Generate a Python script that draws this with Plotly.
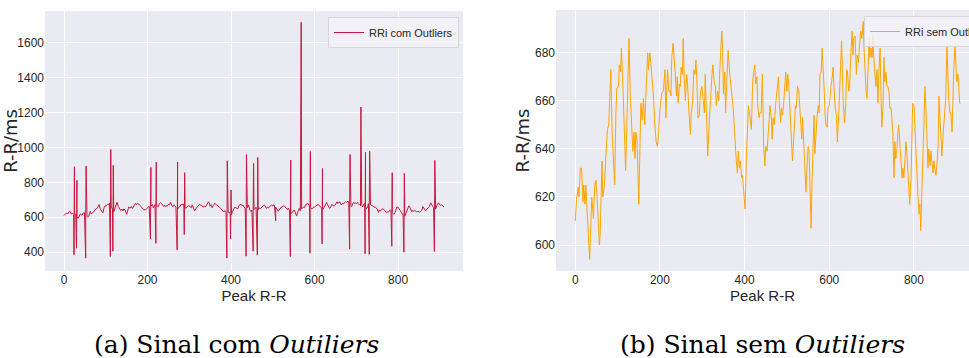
import plotly.graph_objects as go

# RR intervals after outlier removal: beat index and interval (ms)
clean_idx = [
    0, 3, 7, 9, 12, 15, 18, 20, 23, 25, 28, 31, 34, 39, 43, 46, 49, 52, 55, 57,
    59, 63, 65, 69, 72, 76, 79, 81, 84, 87, 90, 93, 96, 98, 102, 104, 107, 109, 113, 116,
    119, 122, 124, 127, 130, 133, 136, 139, 141, 143, 146, 150, 153, 155, 158, 161, 164, 167, 171, 173,
    176, 179, 182, 185, 188, 191, 194, 197, 200, 204, 208, 212, 214, 218, 221, 224, 226, 228, 231, 234,
    236, 239, 241, 243, 246, 248, 250, 253, 255, 257, 260, 263, 265, 268, 272, 274, 277, 280, 283, 285,
    287, 290, 293, 296, 299, 302, 305, 307, 310, 313, 317, 320, 323, 325, 328, 331, 333, 336, 339, 341,
    343, 346, 348, 350, 353, 355, 358, 361, 365, 368, 370, 373, 376, 378, 380, 383, 385, 388, 390, 393,
    395, 398, 400, 401, 404, 406, 409, 412, 416, 419, 421, 424, 426, 429, 431, 434, 436, 439, 442, 445,
    448, 450, 453, 455, 458, 460, 463, 465, 467, 470, 473, 475, 477, 480, 482, 485, 487, 489, 492, 495,
    497, 500, 502, 504, 507, 510, 513, 515, 518, 520, 522, 525, 528, 530, 533, 535, 537, 540, 543, 545,
    548, 550, 552, 555, 557, 559, 562, 564, 566, 569, 571, 574, 576, 578, 581, 583, 585, 588, 590, 592,
    595, 597, 600, 602, 604, 607, 609, 611, 614, 617, 619, 622, 624, 626, 629, 631, 633, 636, 639, 641,
    643, 646, 648, 651, 654, 656, 658, 661, 664, 666, 669, 671, 674, 677, 680, 682, 684, 687, 689, 691,
    694, 696, 698, 701, 703, 705, 708, 710, 713, 715, 717, 720, 722, 724, 727, 729, 731, 734, 736, 738,
    741, 743, 746, 748, 750, 753, 755, 757, 760, 762, 764, 767, 769, 772, 774, 776, 779, 781, 783, 786,
    788, 790, 793, 795, 797, 800, 802, 805, 807, 809, 812, 814, 816, 819, 821, 823, 826, 828, 831, 833,
    835, 838, 840, 842, 845, 847, 849, 852, 854, 857, 859, 861, 864, 866, 868, 871, 873, 875, 878, 880,
    882, 885, 887, 890, 892, 894, 897, 899, 901, 904, 906, 908, 910,
]
clean_val = [
    610, 619, 624, 620, 632, 632, 618, 625, 617, 625, 614, 602, 594, 620, 611, 625, 627, 619, 605, 600,
    605, 635, 620, 625, 636, 648, 650, 661, 673, 647, 634, 625, 655, 665, 666, 675, 672, 682, 664, 647,
    631, 651, 664, 686, 662, 647, 639, 647, 636, 647, 643, 617, 644, 659, 652, 661, 650, 664, 680, 673,
    680, 675, 669, 661, 650, 643, 641, 647, 657, 663, 664, 673, 653, 673, 664, 664, 662, 678, 684, 678,
    672, 662, 670, 659, 667, 666, 674, 671, 686, 672, 660, 671, 668, 657, 646, 655, 659, 673, 671, 677,
    670, 653, 654, 664, 666, 661, 655, 671, 652, 637, 653, 664, 671, 675, 668, 666, 658, 664, 660, 671,
    678, 689, 682, 663, 672, 655, 668, 681, 671, 666, 664, 657, 648, 641, 636, 630, 639, 632, 635, 628,
    629, 622, 619, 615, 635, 648, 658, 654, 648, 668, 671, 675, 667, 670, 658, 653, 655, 655, 671, 641,
    633, 641, 639, 644, 654, 658, 653, 644, 653, 650, 658, 662, 665, 670, 659, 651, 657, 654, 658, 669,
    672, 664, 671, 668, 658, 647, 635, 641, 651, 658, 657, 666, 664, 658, 647, 644, 653, 641, 630, 622,
    635, 641, 640, 622, 607, 625, 641, 654, 638, 650, 653, 658, 655, 671, 672, 682, 676, 664, 655, 650,
    649, 657, 658, 664, 666, 670, 674, 666, 657, 654, 643, 653, 665, 671, 685, 673, 659, 651, 659, 673,
    672, 664, 666, 680, 689, 679, 686, 687, 671, 679, 676, 682, 689, 686, 693, 682, 672, 664, 661, 676,
    686, 678, 682, 678, 687, 678, 671, 666, 673, 659, 671, 682, 664, 649, 658, 678, 668, 672, 666, 666,
    664, 657, 657, 651, 647, 628, 643, 636, 640, 647, 650, 641, 633, 628, 632, 628, 636, 643, 639, 628,
    622, 617, 628, 639, 659, 658, 650, 637, 625, 622, 613, 617, 606, 625, 641, 655, 666, 658, 644, 632,
    640, 633, 639, 635, 630, 635, 633, 629, 633, 641, 662, 655, 644, 637, 644, 653, 655, 661, 683, 672,
    661, 655, 655, 647, 665, 673, 683, 676, 668, 671, 665, 659, 659,
]

# Ectopic / artefact beats present in the raw recording (beat index, interval ms)
outlier_idx = [
    24, 25, 30, 31, 52, 53, 111, 112, 117, 118, 207, 208, 220, 221, 271, 272, 288, 289,
    390, 391, 399, 400, 436, 437, 453, 454, 463, 464, 507, 542, 543, 568, 589, 590,
    618, 619, 684, 685, 711, 721, 722, 731, 732, 785, 786, 814, 815, 887, 888,
]
outlier_val = [
    385, 890, 423, 812, 366, 894, 375, 989, 406, 898, 476, 886, 451, 916, 413, 916, 501, 856,
    366, 924, 476, 757, 377, 960, 406, 909, 383, 943, 580, 375, 928, 1718, 394, 977,
    447, 880, 417, 960, 1232, 391, 973, 387, 979, 434, 856, 400, 852, 404, 926,
]

# Raw series = clean intervals with the outlier beats placed back in sequence
raw = sorted(
    [(i, v, 1) for i, v in zip(clean_idx, clean_val)]
    + [(i, v, 0) for i, v in zip(outlier_idx, outlier_val)],
    key=lambda p: (p[0], p[2]),
)
raw_idx = [p[0] for p in raw]
raw_val = [p[1] for p in raw]

x_ticks = [0, 200, 400, 600, 800]
y_ticks_raw = [400, 600, 800, 1000, 1200, 1400, 1600]
y_ticks_clean = [600, 620, 640, 660, 680]

W, H = 969, 358
BG = "#EAEAF2"
INK = "#262626"
SANS = "Liberation Sans, Arial, sans-serif"
SERIF = "DejaVu Serif, serif"

fig = go.Figure()
fig.add_trace(go.Scatter(
    x=raw_idx, y=raw_val, mode="lines", name="RRi com Outliers", showlegend=True,
    line=dict(color="#c8163c", width=1), xaxis="x", yaxis="y", legend="legend",
))
fig.add_trace(go.Scatter(
    x=clean_idx, y=clean_val, mode="lines", name="RRi sem Outliers", showlegend=True,
    line=dict(color="orange", width=1), xaxis="x2", yaxis="y2", legend="legend2",
))

axis_common = dict(
    showline=False, zeroline=False, showgrid=True, gridcolor="white", gridwidth=1,
    ticks="", tickfont=dict(family=SANS, size=12, color=INK),
)


def xtitle():
    return dict(text="Peak R-R", standoff=4, font=dict(family=SANS, size=15, color=INK))


def ytitle():
    return dict(text="R-R/ms", standoff=0, font=dict(family="DejaVu Sans", size=18, color=INK))


legend_style = dict(
    xanchor="left", yanchor="top", bgcolor="rgba(242,242,247,0.85)",
    bordercolor="#d6d6de", borderwidth=1, itemwidth=30,
    font=dict(family=SANS, size=11, color=INK),
)

fig.update_layout(
    width=W, height=H, showlegend=True,
    margin=dict(l=0, r=0, t=0, b=0, autoexpand=False),
    paper_bgcolor="white", plot_bgcolor=BG,
    xaxis=dict(domain=[45 / W, 463 / W], range=[-45.5, 955.5], tickvals=x_ticks,
               anchor="y", title=xtitle(), **axis_common),
    yaxis=dict(domain=[1 - 271 / H, 1 - 11 / H], range=[292, 1783], tickvals=y_ticks_raw,
               anchor="x", title=ytitle(), **axis_common),
    xaxis2=dict(domain=[556 / W, 1.0], range=[-45.5, 930], tickvals=x_ticks,
                anchor="y2", title=xtitle(), **axis_common),
    yaxis2=dict(domain=[1 - 271 / H, 1 - 10 / H], range=[589.2, 697.8], tickvals=y_ticks_clean,
                anchor="x2", title=ytitle(), **axis_common),
    legend=dict(legend_style, x=459 / W, y=1 - 17 / H, xanchor="right"),
    legend2=dict(legend_style, x=864 / W, y=1 - 16 / H),
    annotations=[
        dict(text="(a) Sinal com <i>Outiliers</i>", x=236 / W, y=1 - 344 / H,
             xref="paper", yref="paper", xanchor="center", yanchor="middle", showarrow=False,
             font=dict(family=SERIF, size=25, color="black")),
        dict(text="(b) Sinal sem <i>Outiliers</i>", x=762 / W, y=1 - 344 / H,
             xref="paper", yref="paper", xanchor="center", yanchor="middle", showarrow=False,
             font=dict(family=SERIF, size=25, color="black")),
    ],
)

fig.write_html("out.html")
